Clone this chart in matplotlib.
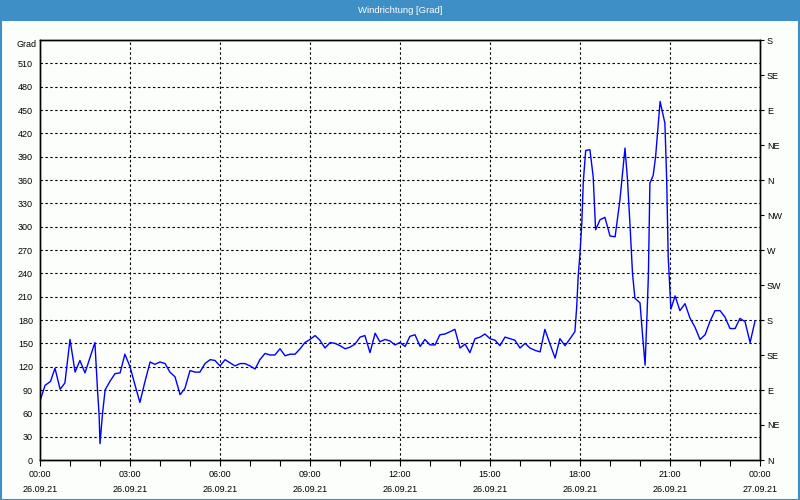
import matplotlib
matplotlib.use("Agg")
import matplotlib.pyplot as plt
from matplotlib.patches import Rectangle

hours = [0.0, 0.17, 0.35, 0.5, 0.67, 0.83, 1.0, 1.17, 1.33, 1.5, 1.83, 1.92, 1.97, 2.0, 2.08, 2.17,
         2.33, 2.5, 2.67, 2.83, 3.0, 3.17, 3.33, 3.5, 3.67, 3.83, 4.0, 4.17, 4.33, 4.5, 4.67, 4.83,
         5.0, 5.17, 5.33, 5.5, 5.67, 5.83, 6.0, 6.17, 6.33, 6.5, 6.67, 6.83, 7.0, 7.17, 7.33, 7.5,
         7.67, 7.83, 8.0, 8.17, 8.33, 8.5, 8.67, 8.83, 9.0, 9.17, 9.33, 9.5, 9.67, 9.83, 10.0, 10.17,
         10.33, 10.5, 10.67, 10.83, 11.0, 11.17, 11.33, 11.5, 11.67, 11.83, 12.0, 12.17, 12.33, 12.5,
         12.67, 12.83, 13.0, 13.17, 13.33, 13.5, 13.67, 13.83, 14.0, 14.17, 14.33, 14.5, 14.67, 14.83,
         15.0, 15.17, 15.33, 15.5, 15.67, 15.83, 16.0, 16.17, 16.33, 16.5, 16.67, 16.83, 17.0, 17.17,
         17.33, 17.5, 17.67, 17.83, 17.89, 17.94, 18.0, 18.06, 18.11, 18.19, 18.33, 18.44, 18.52,
         18.67, 18.83, 19.0, 19.17, 19.33, 19.5, 19.58, 19.67, 19.75, 19.83, 20.0, 20.08, 20.17,
         20.24, 20.28, 20.33, 20.44, 20.52, 20.61, 20.67, 20.74, 20.83, 20.89, 20.94, 21.0, 21.03,
         21.17, 21.33, 21.5, 21.67, 21.83, 22.0, 22.17, 22.33, 22.5, 22.67, 22.83, 23.0, 23.17,
         23.33, 23.5, 23.67, 23.83]
degrees = [76, 96, 101, 118, 91, 99, 155, 113, 128, 112, 151, 88, 58, 21, 58, 90,
           101, 111, 112, 136, 120, 96, 74, 101, 126, 123, 126, 124, 113, 107, 84, 92,
           115, 113, 113, 124, 129, 128, 121, 129, 125, 121, 124, 124, 121, 117, 129, 137,
           135, 135, 143, 134, 136, 136, 143, 151, 155, 160, 154, 144, 151, 150, 147, 143,
           145, 149, 158, 160, 138, 163, 152, 155, 153, 148, 151, 146, 159, 161,
           146, 155, 148, 148, 161, 162, 165, 168, 144, 149, 138, 156, 158, 162,
           156, 154, 147, 158, 156, 154, 144, 150, 144, 141, 139, 168, 149, 131,
           156, 147, 156, 165, 197, 236, 266, 304, 358, 398, 399, 364, 296,
           309, 312, 288, 287, 334, 401, 362, 300, 240, 208, 202, 163, 122,
           193, 238, 356, 366, 390, 433, 461, 449, 433, 360, 261, 216, 194,
           211, 192, 201, 182, 171, 155, 161, 178, 192, 192, 184, 169, 169,
           182, 178, 151, 178]

x_ticks = [0, 3, 6, 9, 12, 15, 18, 21, 24]
x_labels = ["00:00\n26.09.21", "03:00\n26.09.21", "06:00\n26.09.21", "09:00\n26.09.21",
            "12:00\n26.09.21", "15:00\n26.09.21", "18:00\n26.09.21", "21:00\n26.09.21",
            "00:00\n27.09.21"]
left_ticks = list(range(0, 511, 30))
right_ticks = list(range(0, 541, 45))
right_labels = ["N", "NE", "E", "SE", "S", "SW", "W", "NW", "N", "NE", "E", "SE", "S"]
title = "Windrichtung [Grad]"
unit = "Grad"

plt.rcParams['font.family'] = ['Liberation Sans', 'DejaVu Sans']
fs = 6.5
bg = "#fcfefc"
blue_bar = "#3d8fc6"

fig = plt.figure(figsize=(8, 5), dpi=100, facecolor=bg)
ax = fig.add_axes([0.05, 0.08, 0.90, 0.84])
ax.set_facecolor(bg)

ax.plot(hours, degrees, color="#0000ff", lw=1.0, zorder=3)
ax.set_xlim(0, 24)
ax.set_ylim(0, 540)

ax.set_xticks(x_ticks)
ax.set_xticklabels(x_labels, fontsize=fs, linespacing=1.95)
ax.set_xticks(range(0, 25), minor=True)
ax.tick_params(axis='x', which='both', direction='out', length=4, width=0.8, pad=3, colors='black')
ax.set_yticks(left_ticks)
ax.set_yticklabels([str(v) for v in left_ticks], fontsize=fs)
ax.tick_params(axis='y', length=0, pad=5)

dash = (0, (2.2, 2.2))
for v in left_ticks[1:]:
    ax.axhline(v, color='black', lw=0.8, ls=dash, zorder=1)
for t in x_ticks[1:-1]:
    ax.axvline(t, color='black', lw=0.8, ls=dash, zorder=1)

for s in ax.spines.values():
    s.set_linewidth(1.0)
    s.set_color('black')

ax2 = ax.twinx()
ax2.set_ylim(0, 540)
ax2.set_yticks(right_ticks)
ax2.set_yticklabels(right_labels, fontsize=fs)
ax2.tick_params(axis='y', direction='out', length=3, width=0.8, pad=2)
for s in ax2.spines.values():
    s.set_linewidth(1.0)

fig.text(0.046, 0.911, unit, ha='right', va='center', fontsize=fs)

fig.patches.append(Rectangle((0, 0.958), 1, 0.042, transform=fig.transFigure,
                             facecolor=blue_bar, edgecolor='none', zorder=0))
fig.patches.append(Rectangle((0.001, 0.001), 0.998, 0.998, transform=fig.transFigure,
                             facecolor='none', edgecolor=blue_bar, lw=1.5, zorder=5))
fig.text(0.5, 0.979, title, ha='center', va='center', color='white', fontsize=6.8)

fig.savefig("out.png", dpi=100, facecolor=bg)
